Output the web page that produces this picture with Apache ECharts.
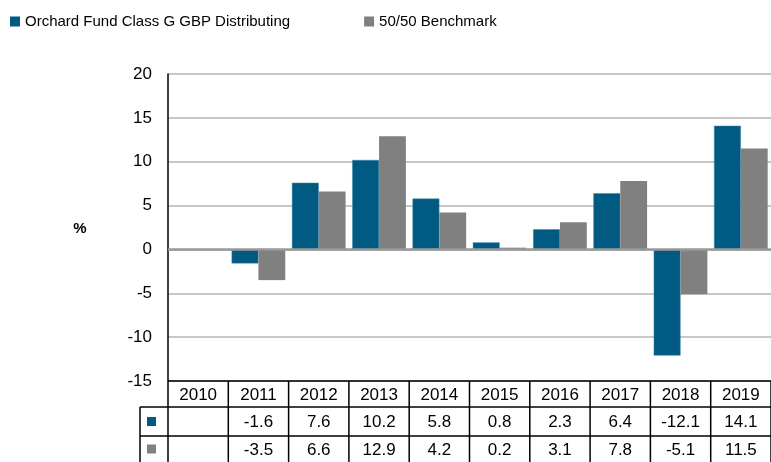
<!DOCTYPE html>
<html>
<head>
<meta charset="utf-8">
<script src="https://cdn.jsdelivr.net/npm/echarts@6/dist/echarts.min.js"></script>
<style>
html, body { margin: 0; padding: 0; background: #fff; }
#chart { width: 771px; height: 462px; }
</style>
</head>
<body>
<div id="chart"></div>
<script>
// 年份与两条序列
var years = ['2010', '2011', '2012', '2013', '2014', '2015', '2016', '2017', '2018', '2019'];
var fundVals = [null, -1.6, 7.6, 10.2, 5.8, 0.8, 2.3, 6.4, -12.1, 14.1];
var benchVals = [null, -3.5, 6.6, 12.9, 4.2, 0.2, 3.1, 7.8, -5.1, 11.5];
var fundName = 'Orchard Fund Class G GBP Distributing';
var benchName = '50/50 Benchmark';

var BLUE = '#005a82';
var GREY = '#808080';
var FONT = '"Liberation Sans", Arial, sans-serif';

var chart = echarts.init(document.getElementById('chart'));

var option = {
	animation: false,
	color: [BLUE, GREY],
	legend: {
		left: 5,
		top: 9,
		itemWidth: 10,
		itemHeight: 10,
		itemGap: 74,
		icon: 'rect',
		itemStyle: { borderWidth: 0 },
		textStyle: { fontFamily: FONT, fontSize: 15, color: '#000' },
		data: [fundName, benchName]
	},
	grid: { left: 168, right: 0, top: 74, height: 307 },
	xAxis: {
		type: 'category',
		data: years,
		axisLine: { show: false },
		axisTick: { show: false },
		axisLabel: { show: false }
	},
	yAxis: {
		type: 'value',
		min: -15,
		max: 20,
		interval: 5,
		axisLine: { show: true, lineStyle: { color: '#000', width: 1.5 } },
		axisTick: { show: false },
		axisLabel: { margin: 16, fontFamily: FONT, fontSize: 17, color: '#000' },
		splitLine: { lineStyle: { color: '#c8c8c8', width: 2 } }
	},
	series: [
		{
			name: fundName,
			type: 'bar',
			data: fundVals,
			barGap: '0%',
			barCategoryGap: '11%',
			itemStyle: { color: BLUE, borderColor: '#3d87a8', borderWidth: 0.5 }
		},
		{
			name: benchName,
			type: 'bar',
			data: benchVals,
			itemStyle: { color: GREY },
			markLine: {
				silent: true,
				symbol: 'none',
				label: { show: false },
				lineStyle: { color: '#999', width: 2.5, type: 'solid' },
				data: [{ yAxis: 0 }]
			}
		}
	]
};
chart.setOption(option);

// 下方数据表格，按坐标轴换算出来的位置画
function drawTable() {
	var els = [];
	var x0 = chart.convertToPixel({ xAxisIndex: 0 }, 0);
	var x1 = chart.convertToPixel({ xAxisIndex: 0 }, 1);
	var band = x1 - x0;
	var left = x0 - band / 2;
	var right = left + band * years.length;
	var yTop = chart.convertToPixel({ yAxisIndex: 0 }, -15);
	var rowYear = yTop + 26;
	var row1 = rowYear + 29;
	var row2 = 462;
	var iconLeft = 140;
	var line = { stroke: '#000', lineWidth: 1.5 };

	function hline(xa, xb, y) {
		els.push({ type: 'line', shape: { x1: xa, y1: y, x2: xb, y2: y }, style: line, z: 10 });
	}
	function vline(x, ya, yb) {
		els.push({ type: 'line', shape: { x1: x, y1: ya, x2: x, y2: yb }, style: line, z: 10 });
	}
	function txt(s, cx, cy) {
		els.push({
			type: 'text', z: 10,
			style: { text: s, x: cx, y: cy, align: 'center', verticalAlign: 'middle',
				font: '17px ' + FONT, fill: '#000' }
		});
	}

	hline(left, right, yTop);
	hline(iconLeft, right, rowYear);
	hline(iconLeft, right, row1);
	vline(iconLeft, rowYear, row2);
	for (var i = 0; i <= years.length; i++) {
		vline(left + band * i, yTop, row2);
	}
	for (var j = 0; j < years.length; j++) {
		var cx = left + band * (j + 0.5);
		txt(years[j], cx, (yTop + rowYear) / 2 + 1);
		if (fundVals[j] != null) txt(String(fundVals[j]), cx, (rowYear + row1) / 2 + 1);
		if (benchVals[j] != null) txt(String(benchVals[j]), cx, (row1 + row2) / 2 + 1);
	}
	// 图例色块
	els.push({ type: 'rect', shape: { x: 147, y: (rowYear + row1) / 2 - 4.5, width: 9, height: 9 }, style: { fill: BLUE }, z: 10 });
	els.push({ type: 'rect', shape: { x: 147, y: (row1 + row2) / 2 - 4.5, width: 9, height: 9 }, style: { fill: GREY }, z: 10 });
	// 纵轴单位
	els.push({ type: 'text', z: 10, style: { text: '%', x: 80, y: 229, align: 'center', verticalAlign: 'middle',
		font: 'bold 15px ' + FONT, fill: '#000' } });

	chart.setOption({ graphic: { elements: els } });
}
drawTable();
</script>
</body>
</html>
